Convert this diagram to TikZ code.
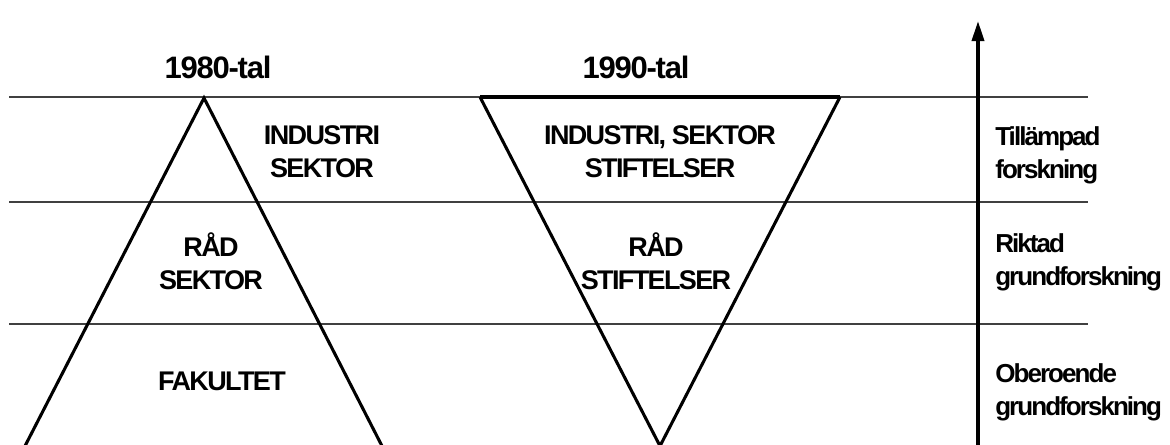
\documentclass[tikz,border=0pt]{standalone}
\usepackage{fontspec}
\setmainfont{Liberation Sans}
\newfontfamily\headfont[LetterSpace=-4]{Liberation Sans}
\newfontfamily\bodyfont[LetterSpace=-6]{Liberation Sans}
\newfontfamily\sidefont[LetterSpace=-7.5]{Liberation Sans}
\usetikzlibrary{arrows.meta}

\tikzset{
  level line/.style={line width=1pt, black!75},
  edge/.style={line width=2.3pt},
  period/.style={inner sep=0pt, anchor=base,
    font=\headfont\bfseries\fontsize{23.25}{28}\selectfont},
  funder/.style={inner sep=0pt, anchor=north, align=center,
    font=\bodyfont\bfseries\fontsize{20.25}{24.75}\selectfont},
  kind/.style={inner sep=0pt, anchor=north west, align=left,
    font=\sidefont\bfseries\fontsize{19.5}{24.75}\selectfont},
}

\begin{document}
\begin{tikzpicture}[x=0.75pt,y=-0.75pt]
\useasboundingbox (0,0) rectangle (1170,444);
% niv\aa linjer
\def\xleft{9}
\def\xright{1088}
\foreach \y [count=\i] in {97,202,324}{
  \coordinate (lvl\i w) at (\xleft,\y);
  \coordinate (lvl\i e) at (\xright,\y);
  \draw[level line] (lvl\i w) -- (lvl\i e);
}

% 1980-tal
\coordinate (apex80) at (204,98);
\coordinate (base80w) at (25,446);
\coordinate (base80e) at (382,446);
\draw[edge] (base80w) -- (apex80) -- (base80e);

% 1990-tal
\coordinate (top90w) at (480,97);
\coordinate (top90e) at (840,97);
\coordinate (tip90) at (660,446);
\draw[edge] (top90w) -- (tip90) -- (top90e);
\draw[edge, line width=3pt] (top90w) -- (top90e);

% pil
\coordinate (axis bottom) at (978,446);
\coordinate (axis top) at (978,21);
\draw[line width=2.6pt, -{Triangle[length=15pt,width=9pt]}] (axis bottom) -- (axis top);

\node[period] (p80) at (218,78) {1980-tal};
\node[period] (p90) at (636,78) {1990-tal};

\node[funder] (ind80) at (322,125) {INDUSTRI\\SEKTOR};
\node[funder] (rad80) at (211,232) {RÅD\\SEKTOR};
\node[funder] (fak80) at (222,372) {FAKULTET};
\node[funder] (ind90) at (660,125) {INDUSTRI, SEKTOR\\STIFTELSER};
\node[funder] (rad90) at (656,232) {RÅD\\STIFTELSER};

\node[kind] (till) at (995,126) {Tillämpad\\forskning};
\node[kind] (rikt) at (995,233) {Riktad\\grundforskning};
\node[kind] (ober) at (995,363) {Oberoende\\grundforskning};
\end{tikzpicture}
\end{document}
